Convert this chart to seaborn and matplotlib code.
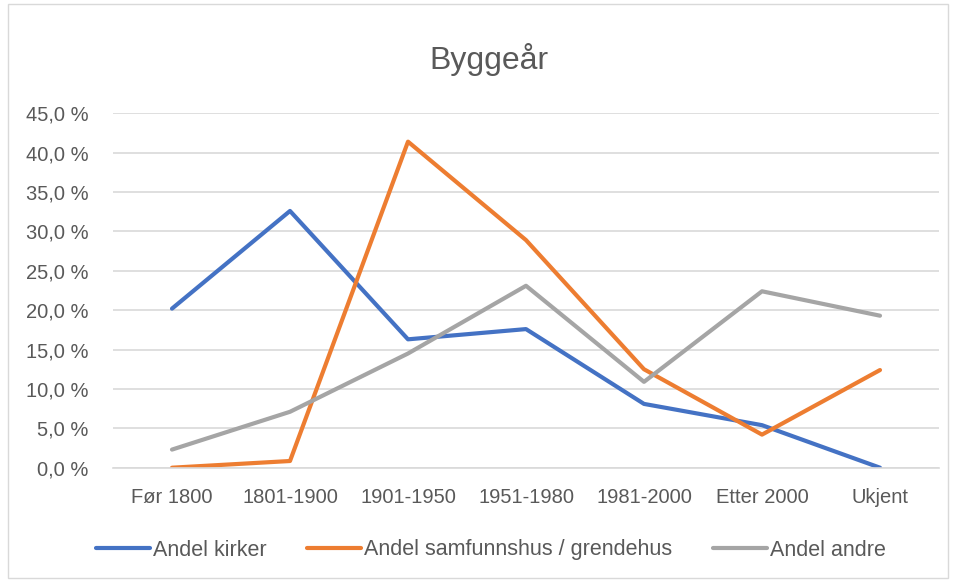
import numpy as np
import pandas as pd
import matplotlib
matplotlib.use("Agg")
import matplotlib.pyplot as plt
import seaborn as sns
from matplotlib.ticker import FuncFormatter, MultipleLocator

# data (percent)
kategorier = ["Før 1800", "1801-1900", "1901-1950", "1951-1980", "1981-2000", "Etter 2000", "Ukjent"]
kirker = [20.2, 32.6, 16.3, 17.6, 8.1, 5.4, 0.0]
samfunnshus = [0.0, 0.85, 41.4, 28.9, 12.5, 4.2, 12.4]
andre = [2.3, 7.1, 14.5, 23.1, 10.9, 22.4, 19.3]
serier = ["Andel kirker", "Andel samfunnshus / grendehus", "Andel andre"]
farger = ["#4472C4", "#ED7D31", "#A5A5A5"]

df = pd.DataFrame({
    "kategori": kategorier * 3,
    "verdi": kirker + samfunnshus + andre,
    "serie": [serier[0]] * 7 + [serier[1]] * 7 + [serier[2]] * 7,
})
df["x"] = df["kategori"].map({k: i for i, k in enumerate(kategorier)})

sns.set_style("white")
plt.rcParams["font.family"] = ["Liberation Sans", "DejaVu Sans"]

fig = plt.figure(figsize=(9.55, 5.82), dpi=100)
ax = fig.add_axes([113 / 955, 1 - 467.7 / 582, (939 - 113) / 955, (467.7 - 113.3) / 582])

sns.lineplot(data=df, x="x", y="verdi", hue="serie", hue_order=serier,
             palette=farger, linewidth=3, ax=ax, legend=False, sort=False)

ax.set_xlim(-0.5, 6.5)
ax.set_ylim(0, 45)
ax.yaxis.set_major_locator(MultipleLocator(5))
ax.yaxis.set_major_formatter(FuncFormatter(lambda v, p: f"{v:.1f} %".replace(".", ",")))
ax.set_xticks(range(len(kategorier)))
ax.set_xticklabels(kategorier)
ax.tick_params(axis="both", labelsize=14.5, colors="#595959", length=0)
ax.tick_params(axis="x", pad=14.5)
ax.tick_params(axis="y", pad=17.5)
ax.grid(axis="y", color="#D9D9D9", linewidth=1.2)
ax.set_axisbelow(True)
for s in ["top", "right", "left"]:
    ax.spines[s].set_visible(False)
ax.spines["bottom"].set_color("#D9D9D9")
ax.spines["bottom"].set_linewidth(1.2)
ax.set_xlabel("")
ax.set_ylabel("")

fig.text(489 / 955, 1 - 60 / 582, "Byggeår", ha="center", va="center", fontsize=23, color="#595959")

handles = [plt.Line2D([], [], color=c, linewidth=3) for c in farger]
fig.legend(handles, serier, loc="center", bbox_to_anchor=(491 / 955, 1 - 550 / 582), ncol=3,
           frameon=False, fontsize=15.5, labelcolor="#595959", handlelength=2.5,
           columnspacing=1.9, handletextpad=0.15)

fig.patches.append(plt.Rectangle((8 / 955, 4 / 582), 940 / 955, 574 / 582, transform=fig.transFigure,
                                 fill=False, edgecolor="#D9D9D9", linewidth=1))

fig.savefig("out.png", dpi=100)
